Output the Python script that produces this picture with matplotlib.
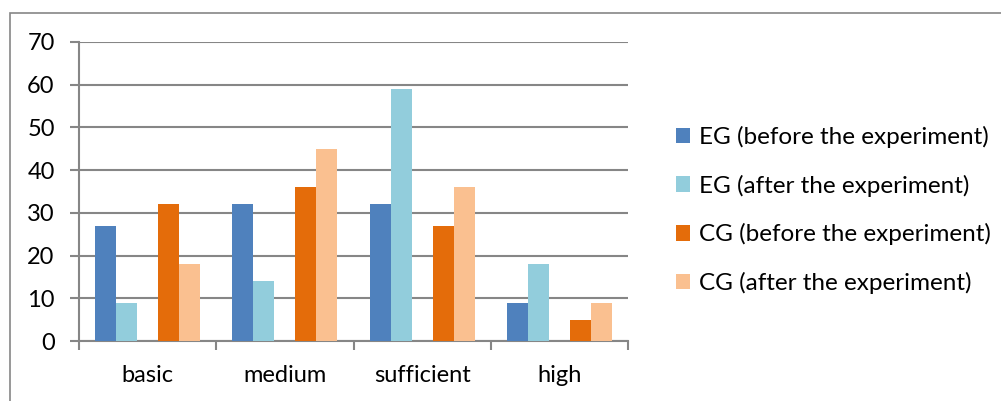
import matplotlib.pyplot as plt
import numpy as np
from matplotlib.patches import Rectangle

categories = ["basic", "medium", "sufficient", "high"]
series_names = ["EG (before the experiment)", "EG (after the experiment)",
                "CG (before the experiment)", "CG (after the experiment)"]
eg_before = [27, 32, 32, 9]
eg_after = [9, 14, 59, 18]
cg_before = [32, 36, 27, 5]
cg_after = [18, 45, 36, 9]
colors = ["#4F81BD", "#92CDDC", "#E46C0A", "#FAC090"]

plt.rcParams["font.family"] = ["Lato", "DejaVu Sans"]

fig = plt.figure(figsize=(10.01, 4.01), dpi=100)
ax = fig.add_axes([79 / 1001, 60 / 401, 549 / 1001, 299 / 401])

x = np.arange(len(categories))
w = 21 / 137.5
# five slots per category, the middle one is empty
offsets = [-2 * w, -w, w, 2 * w]
for vals, off, c, name in zip([eg_before, eg_after, cg_before, cg_after],
                              offsets, colors, series_names):
    ax.bar(x + off, vals, width=w, color=c, label=name, zorder=3)

ax.set_xlim(-0.5, len(categories) - 0.5)
ax.set_ylim(0, 70)
ax.set_yticks(range(0, 71, 10))
ax.yaxis.grid(True, color="#868686", linewidth=1.5, zorder=0)

ax.set_xticks(np.arange(len(categories) + 1) - 0.5)
ax.set_xticklabels([])
ax.set_xticks(x, minor=True)
ax.set_xticklabels(categories, minor=True)
ax.tick_params(axis="x", which="major", length=6.5, width=1.5, color="#868686")
ax.tick_params(axis="x", which="minor", length=0, pad=17, labelsize=17)
ax.tick_params(axis="y", length=6.5, width=1.5, color="#868686", labelsize=17, pad=11)

for s in ["top", "right"]:
    ax.spines[s].set_visible(False)
for s in ["left", "bottom"]:
    ax.spines[s].set_color("#868686")
    ax.spines[s].set_linewidth(1.5)

fig.legend(loc="upper left", bbox_to_anchor=(666 / 1001, 1 - 116 / 401),
           frameon=False, fontsize=17.5, handlelength=0.6, handleheight=0.6,
           handletextpad=0.35, labelspacing=1.1, borderaxespad=0)

fig.patches.append(Rectangle((9.5 / 1001, -0.01), 1.0, 1 - 12.5 / 401 + 0.01,
                             transform=fig.transFigure, fill=False,
                             edgecolor="#868686", linewidth=1.2))

fig.savefig("out.png", dpi=100)
